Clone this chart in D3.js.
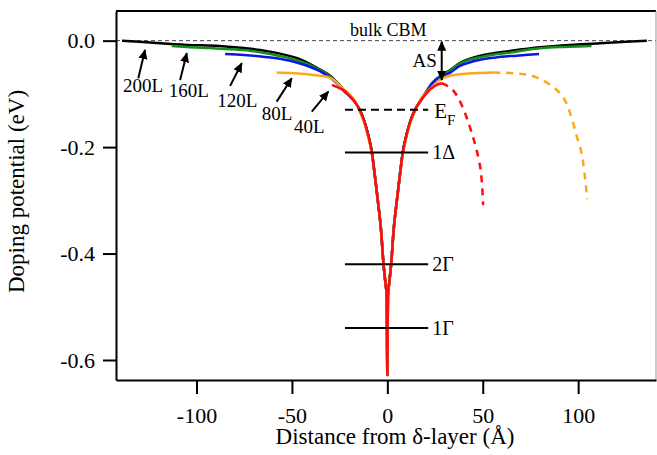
<!DOCTYPE html>
<html>
<head>
<meta charset="utf-8">
<script src="https://cdn.jsdelivr.net/npm/d3@7"></script>
<style>
  body { margin: 0; background: #fff; }
</style>
</head>
<body>
<svg id="chart"><g></g></svg>
<script>
// shared deep part of the well (all curves meet here), [distance Å, potential eV]
const core = [
  [-23, -0.093], [-20, -0.103], [-17, -0.115], [-14.5, -0.13], [-12, -0.152], [-10, -0.178],
  [-8.1, -0.21], [-6.5, -0.255], [-5, -0.30], [-3.3, -0.356], [-2, -0.42], [-1, -0.455],
  [-0.3, -0.48], [0, -0.628], [0.3, -0.48], [1, -0.455], [2, -0.42], [3.3, -0.356],
  [5, -0.30], [6.5, -0.255], [8.1, -0.21], [10, -0.178], [12, -0.152], [14.5, -0.13],
  [17, -0.115]
];

const black200Left = [[-139, 0.0], [-130, -0.002], [-119, -0.005], [-105, -0.008], [-88, -0.010], [-75, -0.014],
  [-66.7, -0.0175], [-58, -0.023], [-51, -0.029], [-45, -0.036], [-40, -0.045], [-35, -0.055],
  [-30, -0.066], [-27, -0.076], [-24, -0.088]];
const black200Right = [[20, -0.098], [24, -0.078], [28, -0.066], [33, -0.055], [38, -0.042], [45, -0.032],
  [55, -0.024], [65, -0.019], [80, -0.0125], [95.8, -0.008], [111.5, -0.005], [125, -0.002], [136, 0.0]];

const green160Left = [[-113, -0.010], [-105, -0.012], [-93, -0.014], [-82, -0.016], [-72, -0.019], [-63, -0.024],
  [-54.5, -0.030], [-47, -0.037], [-40.5, -0.046], [-35, -0.056], [-30, -0.067], [-27, -0.077], [-24, -0.088]];
const green160Right = [[20, -0.099], [24, -0.078], [28, -0.066], [33, -0.056], [38, -0.043], [43, -0.036],
  [48.6, -0.031], [56, -0.026], [64.3, -0.0225], [72, -0.018], [80, -0.0145], [90, -0.012], [100, -0.011], [107, -0.010]];

const blue120Left = [[-85, -0.025], [-75, -0.027], [-63, -0.031], [-55, -0.035], [-47.5, -0.041], [-40, -0.050],
  [-34, -0.060], [-28.3, -0.074], [-25, -0.085]];
const blue120Right = [[20, -0.099], [24, -0.079], [28, -0.068], [33, -0.060], [38, -0.0475], [43, -0.041],
  [48.6, -0.036], [56, -0.032], [64.3, -0.029], [72, -0.027], [79.5, -0.025]];

const orange80Left = [[-58, -0.060], [-50, -0.061], [-45, -0.062], [-40, -0.064], [-35, -0.066], [-30, -0.070],
  [-27, -0.077], [-24, -0.088], [-20, -0.100], [-17, -0.113], [-14.8, -0.13], [-12.3, -0.152],
  [-10.2, -0.178], [-8.3, -0.21]];
const orange80Right = [[8.3, -0.21], [10.2, -0.178], [12.3, -0.152], [14.8, -0.13], [17, -0.113], [20, -0.099],
  [24, -0.085], [27.6, -0.073], [32, -0.067], [39.8, -0.0625], [47, -0.061], [55.5, -0.060]];
const orange80Dash = [[55.5, -0.060], [65, -0.061], [74.8, -0.065], [80, -0.072], [85.3, -0.083], [90.5, -0.099],
  [93.5, -0.115], [95.8, -0.136], [99.3, -0.18], [102.4, -0.224], [104.1, -0.274], [104.8, -0.298]];

const red40Left = [[-29, -0.083], [-26, -0.088]];
const red40Right = [[20, -0.101], [23, -0.090], [26, -0.083], [28.5, -0.080]];
const red40Dash = [[28.5, -0.080], [31, -0.084], [34.4, -0.093], [37.5, -0.11], [40.7, -0.136], [43.5, -0.165],
  [46.3, -0.199], [48, -0.225], [49.1, -0.249], [49.8, -0.28], [50.2, -0.309]];

// energy levels
const levelNames = ['1\u0394', '2\u0393', '1\u0393'];
const levelValues = [-0.21, -0.42, -0.54];
const fermiLevel = -0.13;

// layer-thickness labels: [name, text x, text y, arrow tail x, tail y, tip x, tip y] in data units
const layerLabels = [
  ['200L', -138.5, -0.096, -130.5, -0.0706, -127, -0.0175],
  ['160L', -114.6, -0.106, -108.6, -0.0738, -105.1, -0.0237],
  ['120L', -89.2, -0.124, -82.4, -0.085, -76.3, -0.0424],
  ['80L', -65.8, -0.149, -58, -0.1146, -50.1, -0.0706],
  ['40L', -48.9, -0.174, -39.6, -0.1333, -30.9, -0.0958]
];

const xTicks = [-100, -50, 0, 50, 100];
const yTicks = [0, -0.2, -0.4, -0.6];

const FONT = '"Liberation Serif", "Times New Roman", serif';

const width = 657;
const height = 455;
const margin = { top: 11, right: 1, bottom: 75, left: 116 };
const innerWidth = width - margin.left - margin.right;
const innerHeight = height - margin.top - margin.bottom;

const root = d3.select('#chart').attr('width', width).attr('height', height);
const svg = root.select('g').attr('transform', `translate(${margin.left}, ${margin.top})`);

const xScale = d3.scaleLinear().domain([-142.2, 140.8]).range([0, innerWidth]);
const yScale = d3.scaleLinear().domain([-0.6376, 0.0557]).range([innerHeight, 0]);

// arrowhead
root.append('defs').append('marker')
  .attr('id', 'head')
  .attr('viewBox', '0 0 10 10')
  .attr('refX', 9).attr('refY', 5)
  .attr('markerWidth', 10).attr('markerHeight', 10)
  .attr('markerUnits', 'userSpaceOnUse')
  .attr('orient', 'auto-start-reverse')
  .append('path')
  .attr('d', 'M0,0.5 L10,5 L0,9.5 Z')
  .attr('fill', '#000');

// bulk CBM reference line
svg.append('line')
  .attr('x1', 0).attr('x2', innerWidth)
  .attr('y1', yScale(0)).attr('y2', yScale(0))
  .attr('stroke', '#444').attr('stroke-width', 1)
  .attr('stroke-dasharray', '4,3');

svg.append('text')
  .attr('x', xScale(0.5)).attr('y', yScale(0) - 5)
  .attr('text-anchor', 'middle')
  .style('font-family', FONT)
  .style('font-size', '18px')
  .text('bulk CBM');

// curves
const lineGen = d3.line()
  .x(d => xScale(d[0]))
  .y(d => yScale(d[1]))
  .curve(d3.curveMonotoneX);

const curves = [
  { name: '200L', color: '#000000', points: [...black200Left, ...core, ...black200Right] },
  { name: '160L', color: '#12901a', points: [...green160Left, ...core, ...green160Right] },
  { name: '120L', color: '#0c14e6', points: [...blue120Left, ...core, ...blue120Right] },
  { name: '80L', color: '#fca81c', points: [...orange80Left, ...core.filter(d => Math.abs(d[0]) < 8), ...orange80Right] },
  { name: '40L', color: '#ff0c0c', points: [...red40Left, ...core, ...red40Right] }
];
const dashed = [
  { name: '80L', color: '#fca81c', points: orange80Dash },
  { name: '40L', color: '#ff0c0c', points: red40Dash }
];

svg.selectAll('.curve')
  .data(curves)
  .join('path')
  .attr('class', 'curve')
  .attr('d', d => lineGen(d.points))
  .attr('fill', 'none')
  .attr('stroke', d => d.color)
  .attr('stroke-width', 2.5)
  .attr('stroke-linejoin', 'round');

svg.selectAll('.dash-curve')
  .data(dashed)
  .join('path')
  .attr('class', 'dash-curve')
  .attr('d', d => lineGen(d.points))
  .attr('fill', 'none')
  .attr('stroke', d => d.color)
  .attr('stroke-width', 2.5)
  .attr('stroke-dasharray', '7,6');

// Fermi level and subband levels
const levelX0 = -22.2;
const levelX1 = 21.4;

svg.append('line')
  .attr('x1', xScale(levelX0)).attr('x2', xScale(levelX1))
  .attr('y1', yScale(fermiLevel)).attr('y2', yScale(fermiLevel))
  .attr('stroke', '#000').attr('stroke-width', 2)
  .attr('stroke-dasharray', '8,5');

const ef = svg.append('text')
  .attr('x', xScale(levelX1) + 6).attr('y', yScale(fermiLevel) + 8)
  .style('font-family', FONT)
  .style('font-size', '21px');
ef.append('tspan').text('E');
ef.append('tspan').attr('dy', 7).style('font-size', '15px').text('F');

svg.selectAll('.level')
  .data(levelValues)
  .join('line')
  .attr('class', 'level')
  .attr('x1', xScale(levelX0)).attr('x2', xScale(levelX1))
  .attr('y1', d => yScale(d)).attr('y2', d => yScale(d))
  .attr('stroke', '#000').attr('stroke-width', 2);

svg.selectAll('.level-label')
  .data(levelValues)
  .join('text')
  .attr('class', 'level-label')
  .attr('x', xScale(levelX1) + 4)
  .attr('y', d => yScale(d) + 7)
  .style('font-family', FONT)
  .style('font-size', '20px')
  .text((d, i) => levelNames[i]);

// AS double arrow
svg.append('line')
  .attr('x1', xScale(28.5)).attr('x2', xScale(28.5))
  .attr('y1', yScale(-0.002)).attr('y2', yScale(-0.074))
  .attr('stroke', '#000').attr('stroke-width', 2)
  .attr('marker-start', 'url(#head)')
  .attr('marker-end', 'url(#head)');

svg.append('text')
  .attr('x', xScale(28.5) - 5).attr('y', yScale(-0.049))
  .attr('text-anchor', 'end')
  .style('font-family', FONT)
  .style('font-size', '19px')
  .text('AS');

// layer labels with arrows
svg.selectAll('.layer-arrow')
  .data(layerLabels)
  .join('line')
  .attr('class', 'layer-arrow')
  .attr('x1', d => xScale(d[3])).attr('y1', d => yScale(d[4]))
  .attr('x2', d => xScale(d[5])).attr('y2', d => yScale(d[6]))
  .attr('stroke', '#000').attr('stroke-width', 2)
  .attr('marker-end', 'url(#head)');

svg.selectAll('.layer-label')
  .data(layerLabels)
  .join('text')
  .attr('class', 'layer-label')
  .attr('x', d => xScale(d[1])).attr('y', d => yScale(d[2]))
  .style('font-family', FONT)
  .style('font-size', '19px')
  .text(d => d[0]);

// frame
svg.append('line')
  .attr('x1', 0).attr('x2', innerWidth).attr('y1', 0).attr('y2', 0)
  .attr('stroke', '#000').attr('stroke-width', 2);
svg.append('line')
  .attr('x1', innerWidth).attr('x2', innerWidth).attr('y1', 0).attr('y2', innerHeight)
  .attr('stroke', '#999').attr('stroke-width', 1);

// axes
const xAxis = svg.append('g')
  .attr('class', 'x-axis')
  .attr('transform', `translate(0, ${innerHeight})`)
  .call(d3.axisBottom(xScale)
    .tickValues(xTicks)
    .tickFormat(d => String(d))
    .tickSize(14)
    .tickSizeOuter(0)
    .tickPadding(13));

const yAxis = svg.append('g')
  .attr('class', 'y-axis')
  .call(d3.axisLeft(yScale)
    .tickValues(yTicks)
    .tickFormat(d => d.toFixed(1))
    .tickSize(13)
    .tickSizeOuter(0)
    .tickPadding(8));

[xAxis, yAxis].forEach(ax => {
  ax.attr('font-family', null).attr('font-size', null);
  ax.select('.domain').attr('stroke', '#000').attr('stroke-width', 2);
  ax.selectAll('.tick line').attr('stroke', '#000').attr('stroke-width', 2);
  ax.selectAll('.tick text')
    .style('font-family', FONT)
    .style('font-size', '22px')
    .attr('fill', '#000');
});

svg.append('text')
  .attr('x', (xScale(-142.2) + xScale(140.8)) / 2 + 9)
  .attr('y', innerHeight + 64)
  .attr('text-anchor', 'middle')
  .style('font-family', FONT)
  .style('font-size', '23px')
  .text('Distance from \u03b4-layer (\u00c5)');

svg.append('text')
  .attr('transform', 'rotate(-90)')
  .attr('x', -(innerHeight / 2) + 4)
  .attr('y', -margin.left + 24)
  .attr('text-anchor', 'middle')
  .style('font-family', FONT)
  .style('font-size', '23px')
  .text('Doping potential (eV)');
</script>
</body>
</html>
